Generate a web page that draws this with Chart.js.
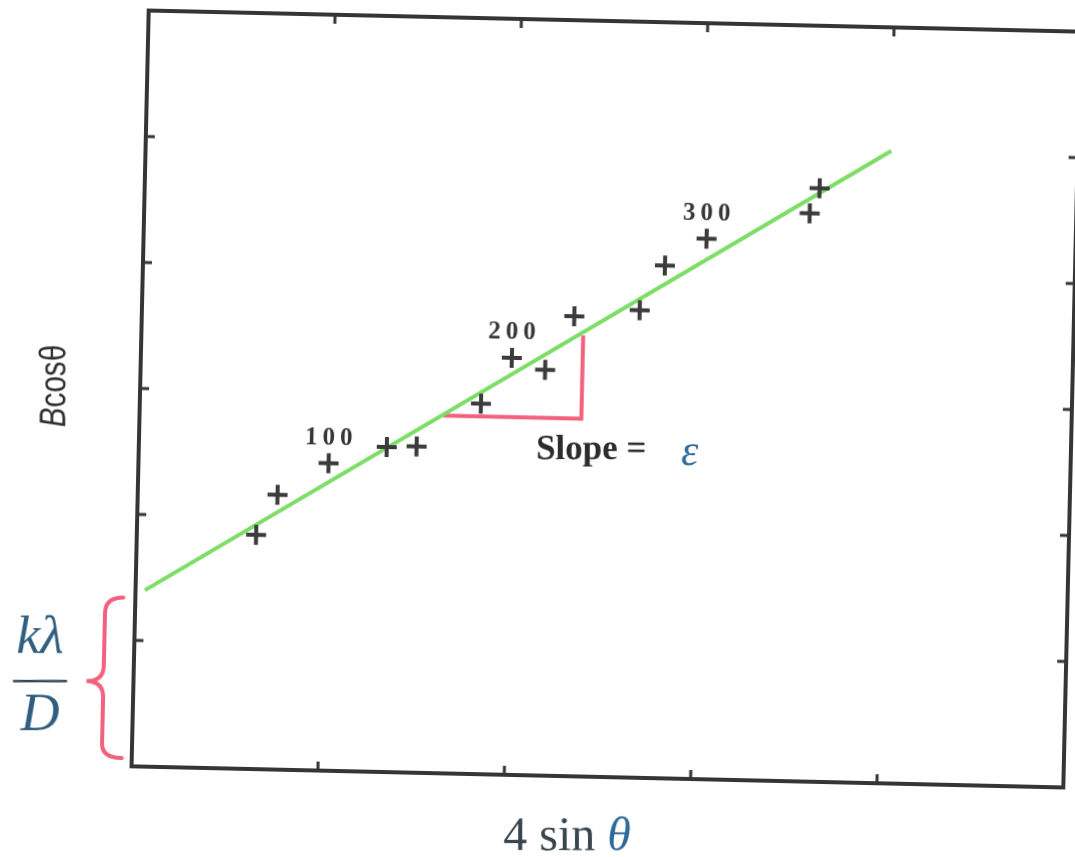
<!DOCTYPE html>
<html><head><meta charset="utf-8">
<script src="https://cdn.jsdelivr.net/npm/chart.js@4.4.1/dist/chart.umd.min.js"></script>
<style>
html,body{margin:0;padding:0;background:#fff;overflow:hidden;width:1075px;height:857px;}
#c{position:absolute;left:0;top:0;transform-origin:606px 399px;transform:rotate(1.3deg);}
</style></head><body>
<canvas id="c" width="1075" height="857"></canvas>
<script>
// ---- data ----
const pointX = [0.64, 0.75, 1.02, 1.33, 1.49, 1.83, 1.99, 2.17, 2.32, 2.67, 2.80, 3.02, 3.57, 3.62];
const pointY = [1.86, 2.18, 2.44, 2.58, 2.59, 2.94, 3.31, 3.22, 3.65, 3.71, 4.07, 4.29, 4.51, 4.71];
const fitX = [0.05, 4.00];
const fitY = [1.40, 5.02];
const slopeX = [1.63, 2.37, 2.37];
const slopeY = [2.84, 2.84, 3.50];
const xTicks = [1, 2, 3, 4];
const yTicks = [1, 2, 3, 4, 5];
const hklLabels = ['100', '200', '300'];
const hklPointIndex = [2, 6, 11];

const TILT = 1.3 * Math.PI / 180, CX = 606, CY = 399;
function toScreenFrame(ctx){ ctx.translate(CX, CY); ctx.rotate(-TILT); ctx.translate(-CX, -CY); }

const zip = (xs, ys) => xs.map((v, i) => ({x: v, y: ys[i]}));

const decor = {
  id: 'decor',
  afterDatasetsDraw(chart){
    const {ctx, chartArea: a, scales: {x, y}} = chart;
    ctx.save();
    // frame
    ctx.strokeStyle = '#353535'; ctx.lineWidth = 4; ctx.lineJoin = 'miter';
    ctx.strokeRect(a.left, a.top, a.right - a.left, a.bottom - a.top);
    // inward ticks
    ctx.lineWidth = 3; const L = 9;
    ctx.beginPath();
    xTicks.forEach(v => { const p = x.getPixelForValue(v);
      ctx.moveTo(p, a.bottom); ctx.lineTo(p, a.bottom - L);
      ctx.moveTo(p, a.top); ctx.lineTo(p, a.top + L); });
    yTicks.forEach(v => { const p = y.getPixelForValue(v);
      ctx.moveTo(a.left, p); ctx.lineTo(a.left + L, p);
      ctx.moveTo(a.right, p); ctx.lineTo(a.right - L, p); });
    ctx.stroke();
    // hkl labels
    const meta = chart.getDatasetMeta(0);
    ctx.font = 'bold 25px "Liberation Serif"'; ctx.fillStyle = '#363636';
    ctx.textAlign = 'center'; ctx.textBaseline = 'middle';
    try { ctx.letterSpacing = '5px'; } catch(e) {}
    hklPointIndex.forEach((idx, k) => { const el = meta.data[idx];
      ctx.fillText(hklLabels[k], el.x + 2, el.y - 25); });
    try { ctx.letterSpacing = '0px'; } catch(e) {}
    // brace for intercept
    const yTop = y.getPixelForValue(fitY[0]) + 8, yBot = y.getPixelForValue(0) - 8;
    const yMid = (yTop + yBot) / 2 + 4;
    const tip = a.left - 12, sp = a.left - 30, pt = a.left - 47;
    ctx.strokeStyle = '#f2627f'; ctx.lineWidth = 4; ctx.lineCap = 'round';
    ctx.beginPath();
    ctx.moveTo(tip, yTop);
    ctx.quadraticCurveTo(sp, yTop, sp, yTop + 16);
    ctx.lineTo(sp, yMid - 16);
    ctx.quadraticCurveTo(sp, yMid, pt, yMid);
    ctx.quadraticCurveTo(sp, yMid, sp, yMid + 16);
    ctx.lineTo(sp, yBot - 14);
    ctx.quadraticCurveTo(sp, yBot, tip + 2, yBot);
    ctx.stroke();
    ctx.restore();

    // texts kept horizontal on screen
    ctx.save();
    toScreenFrame(ctx);
    ctx.textBaseline = 'alphabetic';
    // Slope = eps
    ctx.textAlign = 'left';
    ctx.fillStyle = '#2c2c2c'; ctx.font = 'bold 35px "Liberation Serif"';
    ctx.fillText('Slope =', 536, 459);
    ctx.fillStyle = '#2f6b9a'; ctx.font = 'italic 44px "Liberation Serif"';
    ctx.fillText('\u03B5', 681, 465);
    // k lambda / D
    ctx.textAlign = 'center';
    ctx.fillStyle = '#2f5f80'; ctx.font = 'italic 54px "Liberation Serif"';
    ctx.fillText('k\u03BB', 40, 653);
    ctx.fillText('D', 40, 730);
    ctx.strokeStyle = '#3a4650'; ctx.lineWidth = 2.5;
    ctx.beginPath(); ctx.moveTo(13, 681); ctx.lineTo(67, 681); ctx.stroke();
    // 4 sin theta
    ctx.textAlign = 'left';
    ctx.font = '48px "Liberation Serif"'; ctx.fillStyle = '#37454f';
    const s1 = '4 sin ';
    const w1 = ctx.measureText(s1).width;
    ctx.font = 'italic 48px "Liberation Serif"';
    const w2 = ctx.measureText('\u03B8').width;
    const x0 = 567 - (w1 + w2) / 2;
    ctx.font = '48px "Liberation Serif"'; ctx.fillText(s1, x0, 850);
    ctx.font = 'italic 48px "Liberation Serif"'; ctx.fillStyle = '#2e6a98';
    ctx.fillText('\u03B8', x0 + w1, 850);
    // B cos theta (vertical, condensed)
    ctx.translate(55, 386); ctx.rotate(-Math.PI / 2); ctx.scale(0.8, 1);
    ctx.fillStyle = '#2f2f2f';
    ctx.font = 'italic 37px "Liberation Sans"'; const wb = ctx.measureText('B').width;
    ctx.font = '37px "Liberation Sans"'; const wr = ctx.measureText('cos\u03B8').width;
    const bx = -(wb + wr) / 2;
    ctx.textBaseline = 'middle';
    ctx.font = 'italic 37px "Liberation Sans"'; ctx.fillText('B', bx, 0);
    ctx.font = '37px "Liberation Sans"'; ctx.fillText('cos\u03B8', bx + wb, 0);
    ctx.restore();
  }
};

new Chart(document.getElementById('c'), {
  type: 'scatter',
  data: {
    datasets: [
      { data: zip(pointX, pointY), pointStyle: 'cross', pointRadius: 10, pointBorderWidth: 4,
        borderColor: '#3b3b3b', backgroundColor: '#3b3b3b', showLine: false, order: 0 },
      { data: zip(fitX, fitY), showLine: true, borderColor: '#7ddd66', borderWidth: 4,
        pointRadius: 0, order: 1 },
      { data: zip(slopeX, slopeY), showLine: true, borderColor: '#f2627f', borderWidth: 4,
        pointRadius: 0, order: 2, borderJoinStyle: 'miter' }
    ]
  },
  options: {
    responsive: false, maintainAspectRatio: false, animation: false, devicePixelRatio: 1,
    layout: { autoPadding: false, padding: { left: 140, right: 3, top: 21, bottom: 80 } },
    plugins: { legend: { display: false }, tooltip: { enabled: false } },
    scales: {
      x: { type: 'linear', min: 0, max: 5, display: false },
      y: { type: 'linear', min: 0, max: 6, display: false }
    }
  },
  plugins: [decor]
});
</script></body></html>
